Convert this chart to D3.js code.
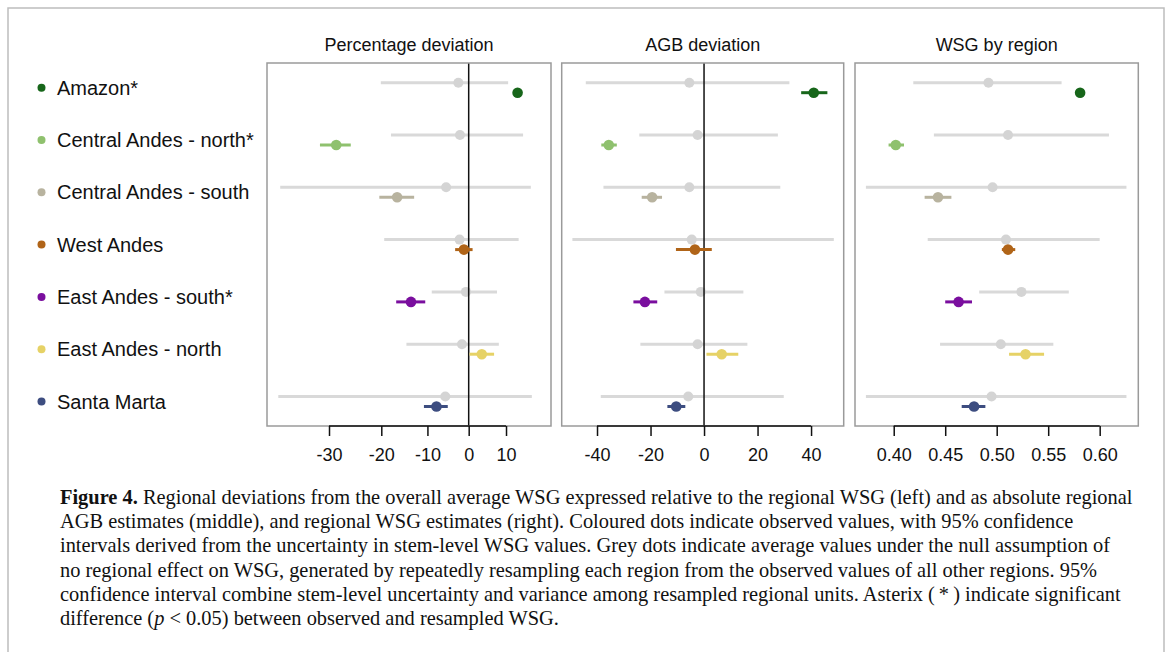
<!DOCTYPE html>
<html>
<head>
<meta charset="utf-8">
<script src="https://cdn.jsdelivr.net/npm/d3@7"></script>
<style>
  body { margin: 0; background: #fff; }
  svg { display: block; }
  .tick text { font-family: "Liberation Sans", Arial, sans-serif; font-size: 18px; fill: #111; }
</style>
</head>
<body>
<div id="fig"></div>
<script>
// Regions (legend order, top to bottom)
var regions = ["Amazon*", "Central Andes - north*", "Central Andes - south", "West Andes",
               "East Andes - south*", "East Andes - north", "Santa Marta"];
var regionColors = ["#17661a", "#8fc16e", "#b8b39f", "#b06418", "#7a0e9e", "#e6d266", "#3d4d80"];

// Percentage deviation (observed / null resampled), with 95% CI
var pctObs   = [13.3, -28.7, -16.7, -1.2, -13.7, 3.4, -7.9];
var pctObsLo = [12.7, -31.6, -20.4, -3.4, -16.9, 0.2, -10.8];
var pctObsHi = [13.9, -26.0, -13.0, 1.0, -10.5, 6.7, -5.2];
var pctNull   = [-2.6, -2.2, -5.6, -2.3, -0.7, -1.7, -5.8];
var pctNullLo = [-20.1, -18.0, -38.2, -19.4, -9.0, -14.7, -38.5];
var pctNullHi = [10.6, 14.9, 17.2, 13.6, 7.5, 8.0, 17.5];

// AGB deviation
var agbObs   = [41.0, -35.6, -19.4, -3.4, -22.1, 6.6, -10.4];
var agbObsLo = [36.3, -38.4, -23.3, -10.5, -26.4, 0.9, -13.7];
var agbObsHi = [46.1, -32.6, -15.7, 2.9, -17.5, 12.8, -7.0];
var agbNull   = [-5.5, -2.4, -5.5, -4.6, -1.2, -2.4, -5.9];
var agbNullLo = [-44.2, -24.2, -37.6, -49.2, -14.8, -23.8, -38.6];
var agbNullHi = [31.9, 27.6, 28.5, 48.5, 14.7, 16.2, 29.8];

// WSG by region
var wsgObs   = [0.581, 0.402, 0.443, 0.511, 0.463, 0.528, 0.478];
var wsgObsLo = [0.578, 0.395, 0.430, 0.505, 0.450, 0.512, 0.466];
var wsgObsHi = [0.584, 0.410, 0.456, 0.518, 0.476, 0.546, 0.489];
var wsgNull   = [0.492, 0.511, 0.496, 0.509, 0.524, 0.504, 0.495];
var wsgNullLo = [0.419, 0.439, 0.373, 0.433, 0.483, 0.445, 0.373];
var wsgNullHi = [0.563, 0.609, 0.626, 0.600, 0.570, 0.555, 0.626];

// Tick labels
var pctTicks = [-30, -20, -10, 0, 10];
var agbTicks = [-40, -20, 0, 20, 40];
var wsgTicks = [0.40, 0.45, 0.50, 0.55, 0.60];

var captionLines = [
  " Regional deviations from the overall average WSG expressed relative to the regional WSG (left) and as absolute regional",
  "AGB estimates (middle), and regional WSG estimates (right). Coloured dots indicate observed values, with 95% confidence",
  "intervals derived from the uncertainty in stem-level WSG values. Grey dots indicate average values under the null assumption of",
  "no regional effect on WSG, generated by repeatedly resampling each region from the observed values of all other regions. 95%",
  "confidence interval combine stem-level uncertainty and variance among resampled regional units. Asterix (\u2009*\u2009) indicate significant"
];

var width = 1168, height = 652;
var sans = '"Liberation Sans", Arial, sans-serif';
var serif = '"Liberation Serif", "Times New Roman", serif';

var svg = d3.select("#fig").append("svg")
    .attr("width", width)
    .attr("height", height);

// outer figure frame
svg.append("rect")
    .attr("x", 8).attr("y", 8)
    .attr("width", 1156).attr("height", 660)
    .attr("fill", "none")
    .attr("stroke", "#bdbdbd")
    .attr("stroke-width", 1.5);

var panelTop = 63, panelBottom = 426;

// Row positions (shared by all panels)
var yRow = d3.scalePoint()
    .domain(regions)
    .range([87.7, 401.5]);
var offset = 5;

// Legend
var legend = svg.append("g").attr("class", "legend");
regions.forEach(function(r, i) {
    legend.append("circle")
        .attr("cx", 41.5)
        .attr("cy", yRow(r))
        .attr("r", 4)
        .attr("fill", regionColors[i]);
    legend.append("text")
        .attr("x", 57)
        .attr("y", yRow(r))
        .attr("dy", "0.35em")
        .attr("font-family", sans)
        .attr("font-size", 20)
        .attr("fill", "#111")
        .text(r);
});

// Panels: scale, data, ticks
var panels = [
  {
    title: "Percentage deviation",
    x0: 267, x1: 551,
    scale: d3.scaleLog().domain([0.5975, 1.2339]).range([267, 551]),
    map: function(v) { return 1 + v / 100; },
    obs: pctObs, obsLo: pctObsLo, obsHi: pctObsHi,
    nul: pctNull, nulLo: pctNullLo, nulHi: pctNullHi,
    ticks: pctTicks,
    fmt: function(v) { return String(v); },
    zero: true
  },
  {
    title: "AGB deviation",
    x0: 561.7, x1: 843.7,
    scale: d3.scaleLinear().domain([-53.2, 52.2]).range([561.7, 843.7]),
    map: function(v) { return v; },
    obs: agbObs, obsLo: agbObsLo, obsHi: agbObsHi,
    nul: agbNull, nulLo: agbNullLo, nulHi: agbNullHi,
    ticks: agbTicks,
    fmt: function(v) { return String(v); },
    zero: true
  },
  {
    title: "WSG by region",
    x0: 855, x1: 1138.3,
    scale: d3.scaleLinear().domain([0.3624, 0.6375]).range([855, 1138.3]),
    map: function(v) { return v; },
    obs: wsgObs, obsLo: wsgObsLo, obsHi: wsgObsHi,
    nul: wsgNull, nulLo: wsgNullLo, nulHi: wsgNullHi,
    ticks: wsgTicks,
    fmt: d3.format(".2f"),
    zero: false
  }
];

panels.forEach(function(p) {
    var g = svg.append("g");
    var x = function(v) { return p.scale(p.map(v)); };

    // Title
    g.append("text")
        .attr("x", (p.x0 + p.x1) / 2)
        .attr("y", 51)
        .attr("text-anchor", "middle")
        .attr("font-family", sans)
        .attr("font-size", 18)
        .attr("fill", "#111")
        .text(p.title);

    // Null (grey) CIs and dots
    regions.forEach(function(r, i) {
        var y = yRow(r) - offset;
        g.append("line")
            .attr("x1", x(p.nulLo[i])).attr("x2", x(p.nulHi[i]))
            .attr("y1", y).attr("y2", y)
            .attr("stroke", "#d9d9d9")
            .attr("stroke-width", 3);
        g.append("circle")
            .attr("cx", x(p.nul[i])).attr("cy", y)
            .attr("r", 5)
            .attr("fill", "#d4d4d4");
    });

    // Zero line
    if (p.zero) {
        g.append("line")
            .attr("x1", x(0)).attr("x2", x(0))
            .attr("y1", panelTop).attr("y2", panelBottom)
            .attr("stroke", "#111")
            .attr("stroke-width", 1.5);
    }

    // Observed (coloured) CIs and dots
    regions.forEach(function(r, i) {
        var y = yRow(r) + offset;
        g.append("line")
            .attr("x1", x(p.obsLo[i])).attr("x2", x(p.obsHi[i]))
            .attr("y1", y).attr("y2", y)
            .attr("stroke", regionColors[i])
            .attr("stroke-width", 3);
        g.append("circle")
            .attr("cx", x(p.obs[i])).attr("cy", y)
            .attr("r", 5.3)
            .attr("fill", regionColors[i]);
    });

    // Panel border
    g.append("rect")
        .attr("x", p.x0).attr("y", panelTop)
        .attr("width", p.x1 - p.x0).attr("height", panelBottom - panelTop)
        .attr("fill", "none")
        .attr("stroke", "#9a9a9a")
        .attr("stroke-width", 1.5);

    // Axis
    var axis = d3.axisBottom(p.scale)
        .tickValues(p.ticks.map(p.map))
        .tickSize(10)
        .tickPadding(12)
        .tickFormat(function(d, i) { return p.fmt(p.ticks[i]); });
    var ax = g.append("g")
        .attr("transform", "translate(0," + panelBottom + ")")
        .call(axis);
    ax.select(".domain").remove();
    ax.selectAll(".tick line").attr("stroke", "#111").attr("stroke-width", 1.5);
    ax.append("line")
        .attr("x1", x(p.ticks[0])).attr("x2", x(p.ticks[p.ticks.length - 1]))
        .attr("stroke", "#111")
        .attr("stroke-width", 1.5);
});

// Caption
var cap = svg.append("g")
    .attr("font-family", serif)
    .attr("font-size", 20.4)
    .attr("fill", "#111");
var lineY = 504, lineH = 24.2;

var first = cap.append("text").attr("x", 60).attr("y", lineY);
first.append("tspan").attr("font-weight", "bold").text("Figure 4.");
first.append("tspan").text(captionLines[0]);

captionLines.slice(1).forEach(function(t, i) {
    cap.append("text")
        .attr("x", 60)
        .attr("y", lineY + lineH * (i + 1))
        .text(t);
});

var last = cap.append("text").attr("x", 60).attr("y", lineY + lineH * 5);
last.append("tspan").text("difference (");
last.append("tspan").attr("font-style", "italic").text("p");
last.append("tspan").text(" < 0.05) between observed and resampled WSG.");
</script>
</body>
</html>
